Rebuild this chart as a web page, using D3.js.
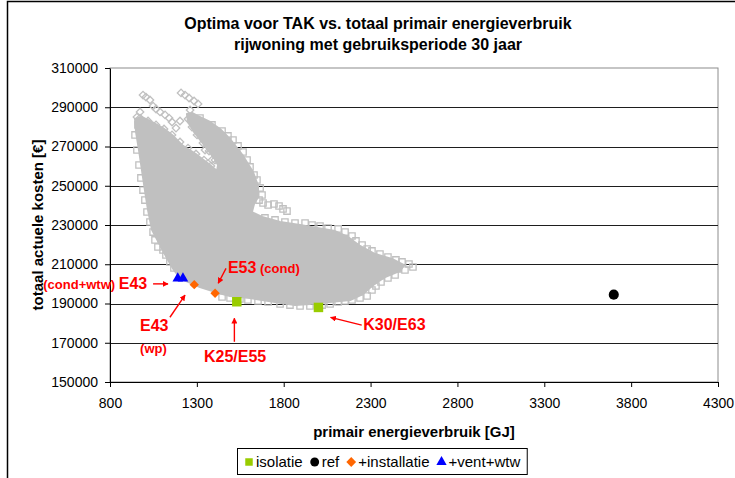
<!DOCTYPE html>
<html>
<head>
<meta charset="utf-8">
<script src="https://cdn.jsdelivr.net/npm/d3@7"></script>
<style>
  body { margin: 0; background: #fff; }
  svg { display: block; font-family: Arial, "Liberation Sans", sans-serif; }
</style>
</head>
<body>
<svg id="chart" width="735" height="478"></svg>
<script>
const titleLines = ['Optima voor TAK vs. totaal primair energieverbruik', 'rijwoning met gebruiksperiode 30 jaar']
const xTitle = 'primair energieverbruik [GJ]'
const yTitle = 'totaal actuele kosten [€]'

const energyTicks = [800, 1300, 1800, 2300, 2800, 3300, 3800, 4300]
const costTicks = [150000, 170000, 190000, 210000, 230000, 250000, 270000, 290000, 310000]

// all calculated variants: dense core of the grey cloud (outline)
const cloudOutline = [
  [944, 284000], [984, 285000], [1030, 283000], [1105, 279400], [1163, 275400],
  [1220, 270300], [1301, 265700], [1376, 260600], [1416, 257500], [1422, 260600],
  [1399, 264100], [1364, 268200], [1324, 272800], [1284, 277400], [1249, 282500],
  [1243, 286600], [1272, 287100], [1307, 285500], [1376, 282500], [1433, 278900],
  [1491, 273800], [1566, 265200], [1623, 257000], [1652, 249900], [1652, 244300],
  [1629, 240700], [1617, 236600], [1675, 234100], [1779, 231500], [1894, 230000],
  [1992, 228500], [2095, 226900], [2170, 223900], [2239, 219300], [2326, 215200],
  [2423, 212700], [2493, 209600], [2470, 206600], [2383, 203500], [2314, 199400],
  [2256, 194800], [2182, 191800], [2067, 190800], [1951, 189800], [1865, 189200],
  [1750, 190800], [1606, 192800], [1491, 193800], [1404, 195900], [1318, 198400],
  [1249, 201000], [1203, 203000], [1168, 207100], [1128, 213200], [1088, 219800],
  [1042, 227500], [1019, 237600], [1001, 247800], [984, 258000], [967, 268200],
  [950, 277400]
]

// loose variants around the cloud, drawn as open diamonds
const cloudDiamonds = [
  [990, 296200], [1007, 295200], [1030, 293700], [1048, 290600], [1065, 289100],
  [1088, 287600], [1117, 286100], [1140, 284500], [1157, 282500], [1209, 297300],
  [1232, 296200], [1255, 294700], [1284, 293200], [1307, 291700], [973, 287600],
  [955, 285000], [990, 281500], [1203, 283000], [1180, 279400], [1261, 288600],
  [1347, 268200], [1387, 263100],
  [973, 284500], [1019, 283000], [1065, 281000], [1111, 278900], [1157, 275900],
  [1203, 272300], [1249, 269200], [1295, 266200], [1341, 263100], [1381, 260100],
  [1404, 263100], [1370, 267700], [1335, 271800], [1301, 275900], [1272, 279900], [1249, 284000]
]

// loose variants around the cloud, drawn as open squares
const cloudSquares = [
  [1318, 284500], [1387, 281000], [1445, 277900], [1479, 275400], [1508, 273300],
  [1537, 270300], [1566, 267200], [1589, 263100], [1606, 259600], [1629, 255500],
  [1646, 252900], [1664, 248900], [1675, 245300], [1658, 242700],
  [1681, 241200], [1710, 240200], [1744, 240700], [1773, 239700], [1796, 238200], [1819, 237100],
  [1692, 233600], [1750, 232600], [1807, 231500], [1865, 231000], [1923, 231000],
  [1963, 230000], [2009, 229500], [2055, 228500], [2113, 228000], [2153, 226400],
  [2193, 224400], [2216, 221900], [2251, 219800], [2280, 217800], [2308, 216800],
  [2354, 215200], [2400, 213700], [2446, 212200], [2481, 211200], [2521, 210100],
  [2544, 208600], [2498, 207100], [2458, 207600],
  [2441, 204500], [2400, 203000], [2360, 201000], [2331, 198900], [2308, 196900],
  [2280, 193800], [2239, 192800], [2193, 191800], [2153, 191300], [2113, 190800], [2067, 189800],
  [2021, 189200], [1951, 188700], [1894, 188700], [1836, 189200], [1779, 189800],
  [1710, 190800], [1652, 191300], [1594, 191800], [1548, 192300], [1491, 192800], [1445, 193300],
  [961, 281000], [944, 275900], [955, 268200], [967, 260600], [978, 254000],
  [990, 247800], [1001, 242700], [1013, 236600], [1030, 231500], [1048, 226400],
  [1059, 222400], [1076, 218800], [1105, 217300], [1122, 214700], [1145, 211200], [1168, 208100]
]

// optima
const seriesNames = ['isolatie', 'ref', '+installatie', '+vent+wtw']
const isolatie = [[1530, 190900], [2000, 188000]]
const ref = [[3700, 194500]]
const installatie = [[1285, 199600], [1405, 195200]]
const ventWtw = [[1190, 202800], [1220, 202800]]

const svg = d3.select('#chart')
const x = d3.scaleLinear().domain([800, 4300]).range([110, 718])
const y = d3.scaleLinear().domain([150000, 310000]).range([382, 68])
const RED = '#ff0000'
const GREY = '#c0c0c0'

// chart frame (cut off at right and bottom in the original)
svg.append('rect')
  .attr('x', 7.5).attr('y', 1.5)
  .attr('width', 800).attr('height', 600)
  .attr('fill', 'none').attr('stroke', '#000').attr('stroke-width', 1.5)

// titles
svg.selectAll('.title')
  .data(titleLines)
  .enter()
  .append('text')
  .attr('x', 378)
  .attr('y', (d, i) => 29 + i * 21)
  .attr('text-anchor', 'middle')
  .style('font-size', '16px')
  .style('font-weight', 'bold')
  .text((d) => d)

// plot area + gridlines
svg.append('rect')
  .attr('x', x(800)).attr('y', y(310000))
  .attr('width', x(4300) - x(800)).attr('height', y(150000) - y(310000))
  .attr('fill', 'none').attr('stroke', '#8c8c8c')

svg.append('g')
  .selectAll('line')
  .data(costTicks.slice(1, -1))
  .enter()
  .append('line')
  .attr('x1', x(800)).attr('x2', x(4300))
  .attr('y1', (d) => Math.round(y(d)) + 0.5)
  .attr('y2', (d) => Math.round(y(d)) + 0.5)
  .attr('stroke', '#1e1e1e')

// grey cloud
const line = d3.line().x((d) => x(d[0])).y((d) => y(d[1])).curve(d3.curveLinearClosed)
svg.append('path')
  .attr('d', line(cloudOutline))
  .attr('fill', GREY)
  .attr('stroke', GREY)
  .attr('stroke-width', 2)
  .attr('stroke-linejoin', 'round')

const sq = d3.symbol().type(d3.symbolSquare)
svg.append('g')
  .selectAll('path')
  .data(cloudSquares)
  .enter()
  .append('path')
  .attr('d', sq.size(40)())
  .attr('transform', (d) => `translate(${x(d[0])},${y(d[1])})`)
  .attr('fill', 'none')
  .attr('stroke', GREY)
  .attr('stroke-width', 1.3)

svg.append('g')
  .selectAll('path')
  .data(cloudDiamonds)
  .enter()
  .append('path')
  .attr('d', sq.size(28)())
  .attr('transform', (d) => `translate(${x(d[0])},${y(d[1])}) rotate(45)`)
  .attr('fill', 'none')
  .attr('stroke', GREY)
  .attr('stroke-width', 1.3)

// axes
const yAxis = d3.axisLeft(y).tickValues(costTicks).tickSize(5).tickSizeOuter(0).tickPadding(7).tickFormat(d3.format('d'))
const xAxis = d3.axisBottom(x).tickValues(energyTicks).tickSize(5).tickSizeOuter(0).tickPadding(11).tickFormat(d3.format('d'))

svg.append('g').attr('transform', `translate(${x(800)},0)`).call(yAxis)
svg.append('g').attr('transform', `translate(0,${y(150000)})`).call(xAxis)
svg.selectAll('.tick text').style('font-size', '14px').attr('fill', '#000').style('font-family', 'Arial, "Liberation Sans", sans-serif')
svg.selectAll('.domain, .tick line').attr('stroke', '#000')

svg.append('text')
  .attr('x', (x(800) + x(4300)) / 2).attr('y', 437)
  .attr('text-anchor', 'middle')
  .style('font-size', '15px').style('font-weight', 'bold')
  .text(xTitle)

svg.append('text')
  .attr('transform', `translate(43,${(y(150000) + y(310000)) / 2}) rotate(-90)`)
  .attr('text-anchor', 'middle')
  .style('font-size', '15px').style('font-weight', 'bold')
  .text(yTitle)

// optimum series
const seriesStyle = [
  {data: isolatie, type: d3.symbolSquare, size: 90, color: '#99cc00', rot: 0, lsize: 56},
  {data: ref, type: d3.symbolCircle, size: 80, color: '#000000', rot: 0, lsize: 62},
  {data: installatie, type: d3.symbolSquare, size: 44, color: '#ff6600', rot: 45, lsize: 48},
  {data: ventWtw, type: d3.symbolTriangle, size: 48, color: '#0000ff', rot: 0, lsize: 46}
]

seriesStyle.forEach((s) => {
  svg.append('g')
    .selectAll('path')
    .data(s.data)
    .enter()
    .append('path')
    .attr('d', d3.symbol().type(s.type).size(s.size)())
    .attr('transform', (d) => `translate(${x(d[0])},${y(d[1])}) rotate(${s.rot})`)
    .attr('fill', s.color)
})

// annotations
svg.append('defs').append('marker')
  .attr('id', 'head')
  .attr('viewBox', '0 0 10 10')
  .attr('refX', 9).attr('refY', 5)
  .attr('markerWidth', 6).attr('markerHeight', 6)
  .attr('markerUnits', 'userSpaceOnUse')
  .attr('orient', 'auto')
  .append('path')
  .attr('d', 'M0,0L10,5L0,10Z')
  .attr('fill', RED)

const notes = [
  {at: [1479, 205400], parts: [['E53', 16], [' (cond)', 13]]},
  {at: [416, 197400], parts: [['(cond+wtw) ', 13], ['E43', 16]]},
  {at: [973, 176100], parts: [['E43', 16]]},
  {at: [973, 164800], parts: [['(wp)', 13]]},
  {at: [1341, 160300], parts: [['K25/E55', 16]]},
  {at: [2258, 176500], parts: [['K30/E63', 16]]}
]
const arrows = [
  [[1468, 207900], [1423, 200300]],
  [[1048, 200000], [1134, 200000]],
  [[1145, 183000], [1232, 194300]],
  [[1516, 170500], [1516, 182500]],
  [[2249, 179000], [2070, 182900]]
]

notes.forEach((n) => {
  const t = svg.append('text')
    .attr('x', x(n.at[0])).attr('y', y(n.at[1]))
    .attr('fill', RED).style('font-weight', 'bold')
  n.parts.forEach((p) => {
    t.append('tspan').style('font-size', p[1] + 'px').text(p[0])
  })
})

svg.append('g')
  .selectAll('line')
  .data(arrows)
  .enter()
  .append('line')
  .attr('x1', (d) => x(d[0][0])).attr('y1', (d) => y(d[0][1]))
  .attr('x2', (d) => x(d[1][0])).attr('y2', (d) => y(d[1][1]))
  .attr('stroke', RED).attr('stroke-width', 1.4)
  .attr('marker-end', 'url(#head)')

// legend
const legend = svg.append('g')
const box = legend.append('rect')
  .attr('x', 237.5).attr('y', 448.5).attr('height', 26)
  .attr('fill', '#fff').attr('stroke', '#000')

let cursor = 237
seriesNames.forEach((name, i) => {
  const s = seriesStyle[i]
  const cx = cursor + 12
  legend.append('path')
    .attr('d', d3.symbol().type(s.type).size(s.lsize)())
    .attr('transform', `translate(${cx},${462}) rotate(${s.rot})`)
    .attr('fill', s.color)
  const t = legend.append('text')
    .attr('x', cx + 7).attr('y', 466.5)
    .style('font-size', '15px')
    .text(name)
  cursor = cx + 7 + t.node().getComputedTextLength()
})
box.attr('width', cursor + 7 - 237.5)
</script>
</body>
</html>
